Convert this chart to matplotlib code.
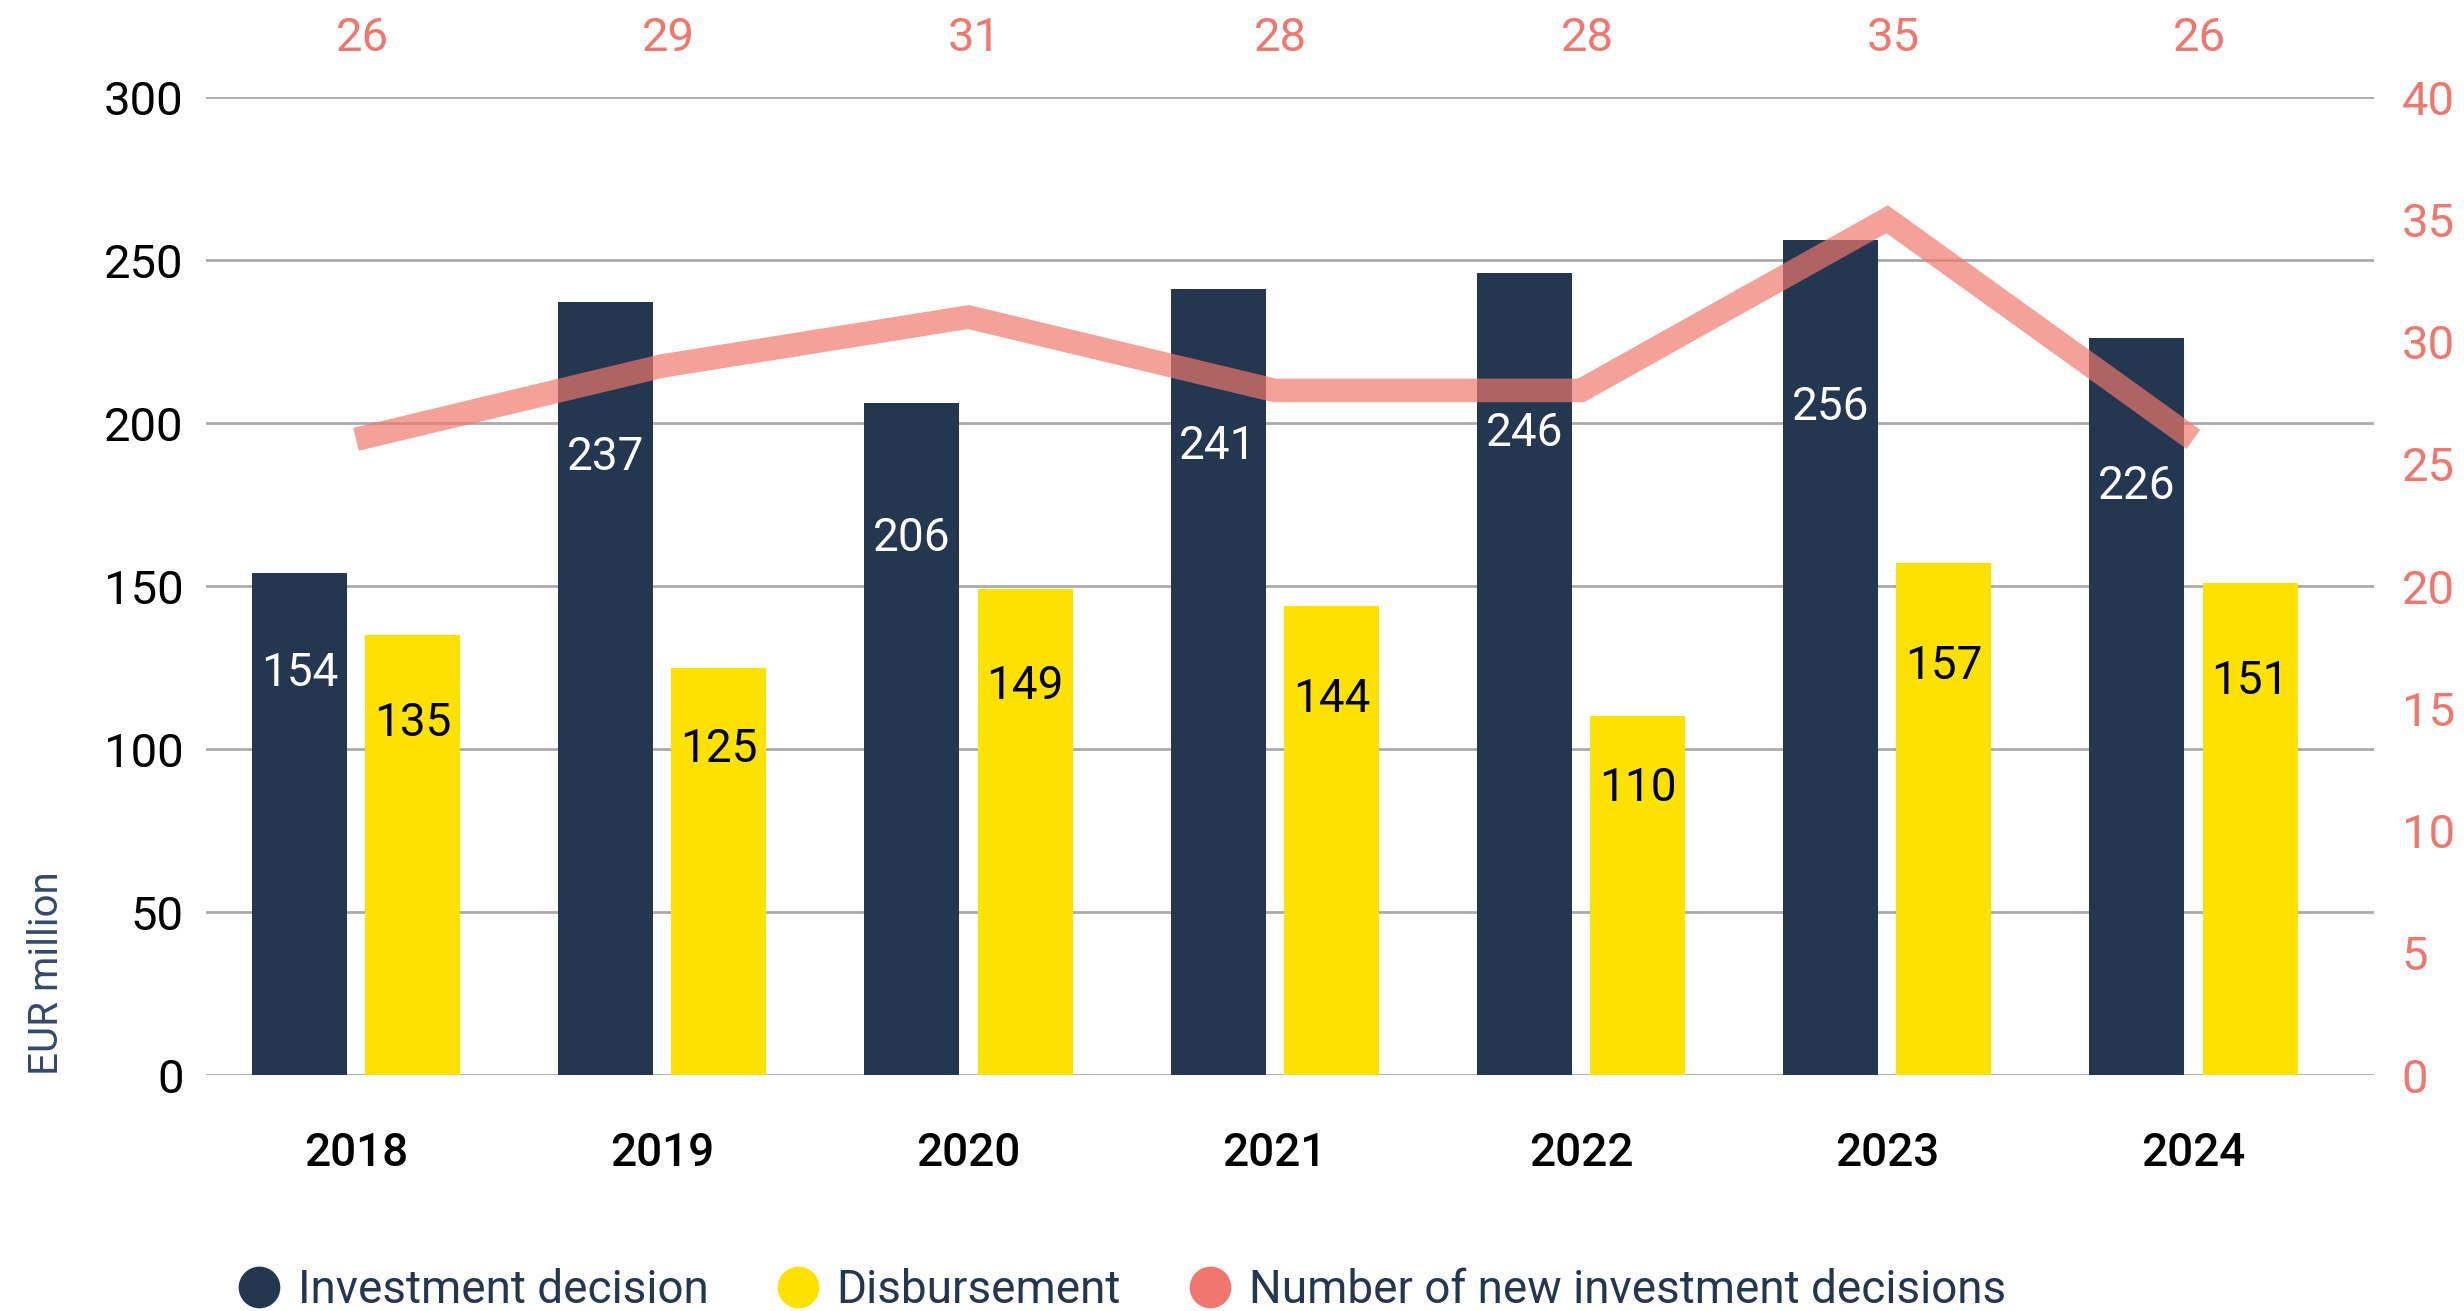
import matplotlib
matplotlib.use("Agg")
import matplotlib.pyplot as plt
from matplotlib.lines import Line2D
from matplotlib.transforms import blended_transform_factory
import numpy as np

years = ["2018", "2019", "2020", "2021", "2022", "2023", "2024"]
investment = [154, 237, 206, 241, 246, 256, 226]
disbursement = [135, 125, 149, 144, 110, 157, 151]
new_decisions = [26, 29, 31, 28, 28, 35, 26]

left_ticks = [0, 50, 100, 150, 200, 250, 300]
right_ticks = [0, 5, 10, 15, 20, 25, 30, 35, 40]

NAVY = "#243750"
YELLOW = "#fde100"
SALMON = "#f0776d"
GRID = "#ababab"

plt.rcParams["font.family"] = ["Roboto", "DejaVu Sans"]

fig = plt.figure(figsize=(24.64, 13.11), dpi=100)
ax = fig.add_axes([0.0836, 0.180, 0.8799, 0.746])
ax2 = ax.twinx()

x = np.arange(len(years))
w = 0.31
off = 0.185

ax.bar(x - off, investment, w, color=NAVY, zorder=2)
ax.bar(x + off, disbursement, w, color=YELLOW, zorder=2)

# value labels sit at about 80% of bar height
for xi, v in zip(x, investment):
    ax.text(xi - off, v * 0.8, str(v), ha="center", va="center",
            color="white", fontsize=33, zorder=3)
for xi, v in zip(x, disbursement):
    ax.text(xi + off, v * 0.8, str(v), ha="center", va="center",
            color="black", fontsize=33, zorder=3)

ax.set_xlim(-0.49, 6.59)
ax.set_ylim(0, 300)
ax.set_yticks(left_ticks)
ax.set_xticks(x)
ax.set_xticklabels(years, fontsize=33, fontweight="medium")
ax.tick_params(axis="x", length=0, pad=40)
ax.tick_params(axis="y", length=0, pad=16, labelsize=34)
ax.grid(axis="y", color=GRID, linewidth=2, zorder=0)
ax.set_axisbelow(True)
for s in ax.spines.values():
    s.set_visible(False)

ax2.plot(x, new_decisions, color=SALMON, alpha=0.69, linewidth=17,
         solid_joinstyle="miter", solid_capstyle="butt")
ax2.set_ylim(0, 40)
ax2.set_yticks(right_ticks)
ax2.tick_params(axis="y", length=0, pad=20, labelsize=34, labelcolor=SALMON)
for s in ax2.spines.values():
    s.set_visible(False)

trans = blended_transform_factory(ax.transData, ax.transAxes)
for xi, v in zip(x, new_decisions):
    ax.text(xi + 0.02, 1.06, str(v), transform=trans, ha="center",
            va="center", color=SALMON, fontsize=34)

fig.text(0.019, 0.180, "EUR million", rotation=90, ha="center",
         va="bottom", color="#34496b", fontsize=29)

handles = [
    Line2D([], [], linestyle="none", marker="o", markersize=30,
           markerfacecolor=c, markeredgecolor="none")
    for c in (NAVY, YELLOW, SALMON)
]
leg = fig.legend(handles, ["Investment decision", "Disbursement",
                           "Number of new investment decisions"],
                 loc="center", bbox_to_anchor=(0.455, 0.016), ncol=3,
                 frameon=False, fontsize=33, handletextpad=0.35,
                 columnspacing=1.45, handlelength=1.0)
for t in leg.get_texts():
    t.set_color("#243750")

fig.savefig("out.png", dpi=100)
